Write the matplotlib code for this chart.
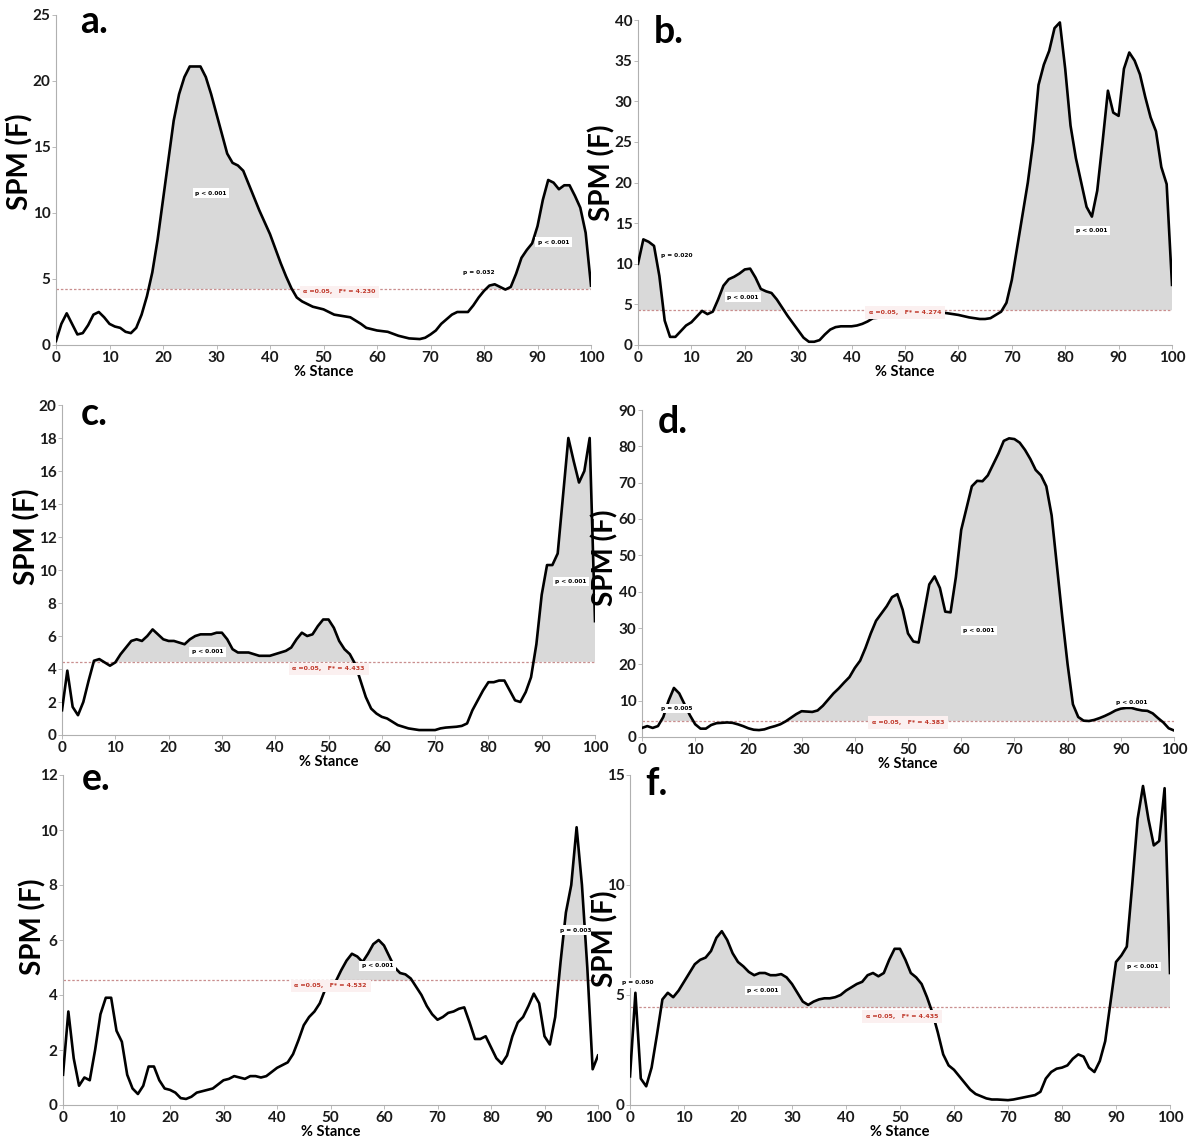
import numpy as np
import matplotlib
matplotlib.use("Agg")
import matplotlib.pyplot as plt

plt.rcParams['font.family'] = ['Lato', 'DejaVu Sans']

# ---- dados (x = % da fase de apoio, y = SPM{F}) ----
x_a = [0, 1, 2, 3, 4, 5, 6, 7, 8, 9, 10, 11, 12, 13, 14, 15, 16, 17, 18, 19, 20,
       21, 22, 23, 24, 25, 26, 27, 28, 29, 30, 31, 32, 33, 34, 35, 36, 37, 38, 39, 40,
       41, 42, 43, 44, 45, 46, 48, 50, 52, 55, 57, 58, 60, 62, 64, 66, 68, 69, 70,
       71, 72, 74, 75, 77, 78, 79, 80, 81, 82, 83, 84, 85, 86, 87, 88, 89, 90,
       91, 92, 93, 94, 95, 96, 97, 98, 99, 100]
y_a = [0.3, 1.6, 2.4, 1.6, 0.8, 0.9, 1.5, 2.3, 2.5, 2.1, 1.6, 1.4, 1.3, 1.0, 0.9, 1.3, 2.3, 3.7, 5.5, 8.0, 11.0,
       14.0, 17.0, 19.0, 20.3, 21.1, 21.1, 21.1, 20.3, 19.0, 17.5, 16.0, 14.5, 13.8, 13.6, 13.2, 12.2, 11.2, 10.2, 9.3, 8.4,
       7.3, 6.2, 5.2, 4.3, 3.6, 3.3, 2.9, 2.7, 2.3, 2.1, 1.6, 1.3, 1.1, 1.0, 0.7, 0.5, 0.45, 0.55, 0.8,
       1.1, 1.6, 2.3, 2.5, 2.5, 3.0, 3.6, 4.1, 4.5, 4.6, 4.4, 4.2, 4.4, 5.4, 6.6, 7.2, 7.7, 9.0,
       11.0, 12.5, 12.3, 11.8, 12.1, 12.1, 11.3, 10.4, 8.5, 4.5]

x_b = list(range(0, 45)) + [50, 57, 58, 60, 62, 64, 65, 66, 67, 68, 69, 70] + list(range(71, 101))
y_b = [10.0, 13.0, 12.7, 12.2, 8.5, 3.0, 1.0, 1.0, 1.7, 2.4, 2.8, 3.5, 4.2, 3.8, 4.1, 5.6, 7.3, 8.1, 8.4, 8.8,
       9.3, 9.4, 8.3, 6.9, 6.6, 6.4, 5.6, 4.6, 3.6, 2.7, 1.8, 0.9, 0.4, 0.4, 0.6, 1.3, 1.9, 2.2, 2.3, 2.3,
       2.3, 2.4, 2.6, 2.9, 3.3,
       3.7, 4.0, 3.9, 3.7, 3.4, 3.2, 3.2, 3.3, 3.7, 4.1, 5.2, 8.0,
       12.0, 16.0, 20.0, 25.0, 32.0, 34.5, 36.2, 39.0, 39.7, 34.0, 27.0, 23.0, 20.0, 17.0, 15.8, 19.0,
       25.0, 31.3, 28.6, 28.2, 34.0, 36.0, 35.0, 33.3, 30.5, 28.0, 26.3, 21.9, 19.8, 7.4]

x_c = list(range(0, 69)) + [70, 71, 72, 74] + list(range(75, 101))
y_c = [1.5, 3.9, 1.7, 1.2, 2.0, 3.3, 4.5, 4.6, 4.4, 4.2, 4.4, 4.9, 5.3, 5.7, 5.8, 5.7, 6.0, 6.4, 6.1, 5.8,
       5.7, 5.7, 5.6, 5.5, 5.8, 6.0, 6.1, 6.1, 6.1, 6.2, 6.2, 5.8, 5.2, 5.0, 5.0, 5.0, 4.9, 4.8, 4.8, 4.8,
       4.9, 5.0, 5.1, 5.3, 5.8, 6.2, 6.0, 6.1, 6.6, 7.0, 7.0, 6.5, 5.7, 5.2, 4.9, 4.3, 3.3, 2.3, 1.6, 1.3,
       1.1, 1.0, 0.8, 0.6, 0.5, 0.4, 0.35, 0.3, 0.3,
       0.3, 0.4, 0.45, 0.5,
       0.55, 0.7, 1.5, 2.1, 2.7, 3.2, 3.2, 3.3, 3.3, 2.7, 2.1, 2.0, 2.6, 3.5, 5.5, 8.5,
       10.3, 10.3, 11.0, 14.5, 18.0, 16.6, 15.3, 16.0, 18.0, 6.9]

x_d = list(range(0, 101))
y_d = [2.5, 3.0, 2.5, 3.0, 5.5, 10.0, 13.5, 12.0, 9.0, 6.0, 3.5, 2.3, 2.3, 3.3, 3.8, 3.9, 4.0, 3.9, 3.5, 3.0,
       2.4, 2.0, 1.9, 2.1, 2.6, 3.0, 3.5, 4.3, 5.3, 6.3, 7.1, 7.0, 6.9, 7.3, 8.6, 10.3, 12.0, 13.4, 15.0, 16.5,
       19.0, 21.0, 24.5, 28.5, 32.0, 34.0, 36.0, 38.5, 39.3, 35.0, 28.5, 26.3, 26.0, 34.0, 42.0, 44.2, 41.0, 34.5, 34.3, 44.0,
       57.0, 63.0, 69.0, 70.5, 70.4, 72.0, 75.0, 78.0, 81.5, 82.2, 82.0, 81.0, 79.0, 76.5, 73.5, 72.0, 69.0, 61.0, 47.0, 33.0,
       20.0, 9.0, 5.5, 4.5, 4.4, 4.7, 5.2, 5.8, 6.5, 7.3, 7.8, 8.0, 8.0, 7.6, 7.3, 7.2, 6.5, 5.2, 4.0, 2.4, 1.8]

x_e = list(range(0, 101))
y_e = [1.1, 3.4, 1.7, 0.7, 1.0, 0.9, 2.0, 3.3, 3.9, 3.9, 2.7, 2.3, 1.1, 0.6, 0.4, 0.7, 1.4, 1.4, 0.9, 0.6,
       0.55, 0.45, 0.25, 0.22, 0.3, 0.45, 0.5, 0.55, 0.6, 0.75, 0.9, 0.95, 1.05, 1.0, 0.95, 1.05, 1.05, 1.0, 1.05, 1.2,
       1.35, 1.45, 1.55, 1.85, 2.35, 2.9, 3.2, 3.4, 3.7, 4.2, 4.5, 4.5, 4.9, 5.25, 5.5, 5.4, 5.2, 5.5, 5.85, 6.0,
       5.8, 5.4, 5.0, 4.8, 4.75, 4.6, 4.3, 4.0, 3.6, 3.3, 3.1, 3.2, 3.35, 3.4, 3.5, 3.55, 3.0, 2.4, 2.4, 2.5,
       2.1, 1.7, 1.5, 1.8, 2.5, 3.0, 3.2, 3.6, 4.05, 3.7, 2.5, 2.2, 3.2, 5.2, 7.0, 8.0, 10.1, 8.0, 5.0, 1.3, 1.8]

x_f = list(range(0, 69)) + [70, 71, 72, 74] + list(range(75, 101))
y_f = [1.3, 5.1, 1.2, 0.85, 1.7, 3.2, 4.8, 5.1, 4.9, 5.2, 5.6, 6.0, 6.4, 6.6, 6.7, 7.0, 7.6, 7.9, 7.5, 6.9,
       6.5, 6.3, 6.05, 5.9, 6.0, 6.0, 5.9, 5.9, 5.95, 5.8, 5.5, 5.1, 4.7, 4.55, 4.7, 4.8, 4.85, 4.85, 4.9, 5.0,
       5.2, 5.35, 5.5, 5.6, 5.9, 6.0, 5.85, 6.0, 6.6, 7.1, 7.1, 6.6, 6.0, 5.8, 5.5, 4.9, 4.2, 3.3, 2.3, 1.8,
       1.6, 1.3, 1.0, 0.7, 0.5, 0.4, 0.3, 0.25, 0.25,
       0.22, 0.25, 0.3, 0.4,
       0.45, 0.6, 1.2, 1.5, 1.65, 1.7, 1.8, 2.1, 2.3, 2.2, 1.7, 1.5, 2.0, 2.9, 4.7, 6.5,
       6.8, 7.2, 10.0, 13.0, 14.5, 13.0, 11.8, 12.0, 14.4, 6.0]

# limiar critico F* de cada painel
limiares = {'a': 4.230, 'b': 4.274, 'c': 4.433, 'd': 4.383, 'e': 4.532, 'f': 4.435}
topo_y = {'a': 25, 'b': 40, 'c': 20, 'd': 90, 'e': 12, 'f': 15}
passo_y = {'a': 5, 'b': 5, 'c': 2, 'd': 10, 'e': 2, 'f': 5}

# textos de p (x, y, texto)
rotulos_p = {
    'a': [(29, 11.5, 'p < 0.001'), (79, 5.5, 'p = 0.032'), (93, 7.8, 'p < 0.001')],
    'b': [(7.3, 11.0, 'p = 0.020'), (19.6, 5.9, 'p < 0.001'), (85, 14.1, 'p < 0.001')],
    'c': [(27.3, 5.05, 'p < 0.001'), (95.5, 9.3, 'p < 0.001')],
    'd': [(6.5, 7.8, 'p = 0.005'), (63.3, 29.3, 'p < 0.001'), (92, 9.6, 'p < 0.001')],
    'e': [(58.8, 5.06, 'p < 0.001'), (95.8, 6.36, 'p = 0.003')],
    'f': [(1.4, 5.55, 'p = 0.050'), (24.6, 5.2, 'p < 0.001'), (95, 6.3, 'p < 0.001')],
}

curvas = {'a': (x_a, y_a), 'b': (x_b, y_b), 'c': (x_c, y_c),
          'd': (x_d, y_d), 'e': (x_e, y_e), 'f': (x_f, y_f)}

# posicao dos eixos em pixels (esq, dir, topo, base)
W, H = 1192, 1139
caixas = {'a': (56, 591, 15, 345), 'b': (638, 1172, 20, 345),
          'c': (62, 595, 405, 735), 'd': (642, 1174, 410, 737),
          'e': (63, 598, 775, 1105), 'f': (630, 1170, 775, 1105)}
pos_ylabel = {'a': (-0.043, 0.555), 'b': (-0.043, 0.53), 'c': (-0.041, 0.60),
              'd': (-0.045, 0.547), 'e': (-0.03, 0.54), 'f': (-0.022, 0.505)}
pos_letra = {'a': (0.045, 0.945), 'b': (0.03, 0.93), 'c': (0.035, 0.94),
             'd': (0.03, 0.93), 'e': (0.035, 0.955), 'f': (0.028, 0.94)}
# posicao do rotulo do limiar (x em dados, deslocamento vertical em pontos)
pos_alfa = {'a': (53, -2), 'b': (50, -1.5), 'c': (50, -5), 'd': (50, -1), 'e': (50, -4), 'f': (50.4, -6.5)}

fig = plt.figure(figsize=(W / 100, H / 100), dpi=100)

for p in ['a', 'b', 'c', 'd', 'e', 'f']:
    esq, dir_, topo, base = caixas[p]
    ax = fig.add_axes([esq / W, 1 - base / H, (dir_ - esq) / W, (base - topo) / H])
    x = np.array(curvas[p][0], dtype=float)
    y = np.array(curvas[p][1], dtype=float)
    thr = limiares[p]

    ax.fill_between(x, y, thr, where=y > thr, interpolate=True, color='#d9d9d9', lw=0, zorder=1)
    ax.axhline(thr, color='#c98f8f', lw=0.9, ls=(0, (2, 1.5)), zorder=2)
    ax.plot(x, y, color='black', lw=1.9, zorder=3)

    ax.set_xlim(0, 100)
    ax.set_ylim(0, topo_y[p])
    ax.set_xticks(range(0, 101, 10))
    ax.set_yticks(np.arange(0, topo_y[p] + 0.1, passo_y[p]))

    for lado in ['top', 'right']:
        ax.spines[lado].set_visible(False)
    for lado in ['left', 'bottom']:
        ax.spines[lado].set_color('#b0b0b0')
        ax.spines[lado].set_linewidth(0.8)
    ax.tick_params(axis='both', length=3, width=0.6, color='#b0b0b0',
                   labelsize=11, pad=1)
    for t in ax.get_xticklabels() + ax.get_yticklabels():
        t.set_fontweight('bold')
        t.set_color('#1a1a1a')

    ax.set_xlabel('% Stance', fontsize=10.5, fontweight='bold', labelpad=0)
    ax.set_ylabel('SPM (F)', fontsize=20, fontweight='bold')
    ax.yaxis.set_label_coords(*pos_ylabel[p])

    ax.text(pos_letra[p][0], pos_letra[p][1], p + '.', transform=ax.transAxes,
            fontsize=27, fontweight='bold', va='baseline', ha='left')

    # rotulo do limiar
    ax.annotate('\u03b1 =0.05,   F* = %.3f' % thr, xy=(pos_alfa[p][0], thr),
                xytext=(0, pos_alfa[p][1]),
                textcoords='offset points', ha='center', va='center',
                fontsize=4.5, color='#c0392b', fontweight='bold', family=['DejaVu Sans'],
                bbox=dict(boxstyle='square,pad=0.6', fc='#fbf0f0', ec='none'), zorder=5)

    for (px, py, txt) in rotulos_p[p]:
        ax.text(px, py, txt, ha='center', va='center', fontsize=4.2, fontweight='bold',
                family=['DejaVu Sans'],
                bbox=dict(boxstyle='square,pad=0.4', fc='white', ec='none'), zorder=5)

plt.savefig('out.png', dpi=100)
